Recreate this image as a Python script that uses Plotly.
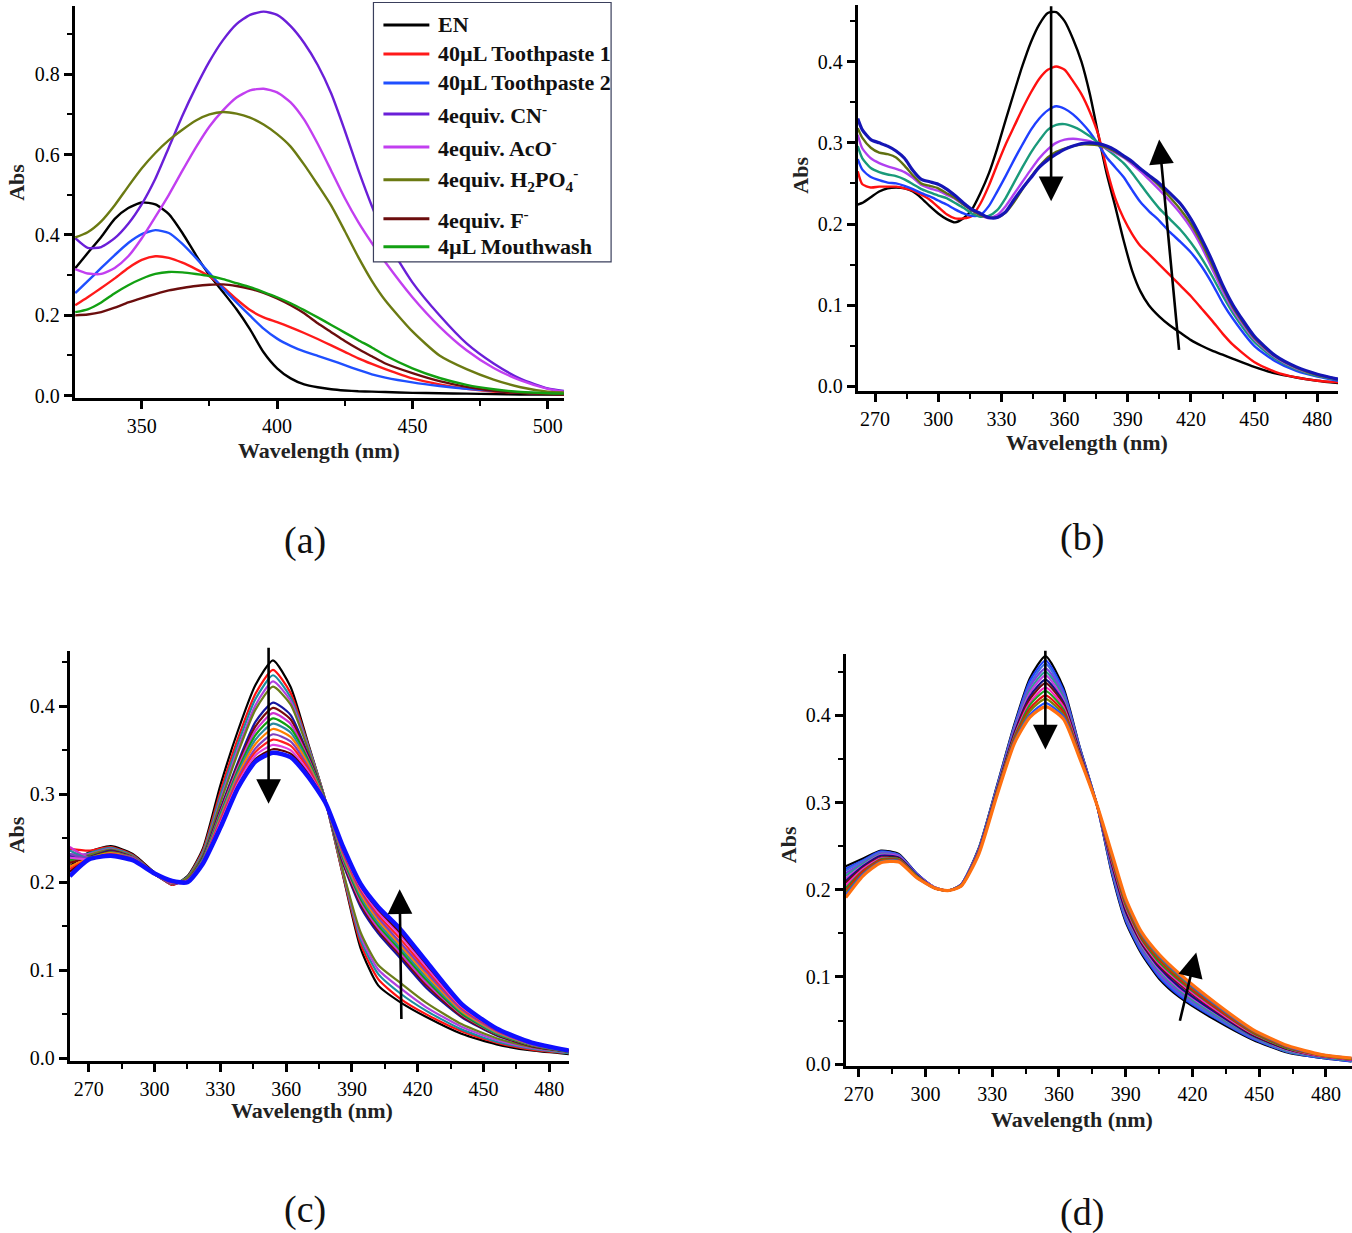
import plotly.graph_objects as go

W, H = 1352, 1233          # reference image size (all pixel positions below are in this frame)
FIG_H = 1241               # page height that the capture maps onto the 1233-pixel picture
SERIF = "Liberation Serif"

# ---------------- panel (a) data ----------------
A_WL = [325.4, 330, 335, 340, 345, 350, 355, 360, 365, 370, 375, 380, 385, 390, 395, 400,
        405, 410, 415, 420, 425, 430, 435, 440, 450, 460, 470, 480, 490, 500, 506]
A_EN = [0.317, 0.355, 0.395, 0.44, 0.467, 0.481, 0.476, 0.452, 0.405, 0.35, 0.3, 0.258, 0.215, 0.165, 0.108, 0.068,
        0.043, 0.028, 0.021, 0.016, 0.013, 0.011, 0.01, 0.009, 0.007, 0.006, 0.005, 0.004, 0.003, 0.003, 0.003]
A_TP1 = [0.225, 0.245, 0.268, 0.292, 0.318, 0.338, 0.347, 0.343, 0.331, 0.315, 0.297, 0.27, 0.24, 0.213, 0.195, 0.183,
         0.17, 0.156, 0.141, 0.125, 0.109, 0.093, 0.079, 0.066, 0.043, 0.028, 0.017, 0.01, 0.007, 0.005, 0.004]
A_TP2 = [0.255, 0.285, 0.318, 0.35, 0.38, 0.402, 0.412, 0.405, 0.378, 0.343, 0.305, 0.267, 0.232, 0.199, 0.167, 0.142,
         0.124, 0.11, 0.099, 0.088, 0.076, 0.064, 0.053, 0.045, 0.033, 0.024, 0.017, 0.012, 0.008, 0.005, 0.005]
A_CN = [0.392, 0.368, 0.37, 0.392, 0.428, 0.477, 0.54, 0.618, 0.697, 0.768, 0.832, 0.885, 0.925, 0.948, 0.956, 0.948,
        0.92, 0.878, 0.823, 0.752, 0.66, 0.562, 0.472, 0.392, 0.282, 0.2, 0.13, 0.08, 0.042, 0.018, 0.012]
A_ACO = [0.315, 0.304, 0.303, 0.318, 0.347, 0.392, 0.445, 0.5, 0.56, 0.618, 0.67, 0.71, 0.742, 0.76, 0.764, 0.755,
         0.73, 0.687, 0.627, 0.56, 0.492, 0.432, 0.38, 0.332, 0.245, 0.172, 0.113, 0.069, 0.038, 0.017, 0.01]
A_H2PO4 = [0.394, 0.407, 0.434, 0.474, 0.521, 0.566, 0.604, 0.636, 0.662, 0.685, 0.7, 0.706, 0.702, 0.692, 0.675, 0.651,
           0.62, 0.575, 0.525, 0.473, 0.41, 0.345, 0.286, 0.237, 0.16, 0.1, 0.066, 0.04, 0.021, 0.01, 0.008]
A_F = [0.2, 0.202, 0.208, 0.219, 0.232, 0.243, 0.253, 0.262, 0.268, 0.273, 0.276, 0.277, 0.273, 0.266, 0.256, 0.242,
       0.225, 0.205, 0.18, 0.158, 0.136, 0.116, 0.098, 0.08, 0.056, 0.036, 0.022, 0.012, 0.007, 0.004, 0.003]
A_MW = [0.208, 0.215, 0.232, 0.255, 0.275, 0.291, 0.303, 0.308, 0.307, 0.303, 0.298, 0.29, 0.28, 0.27, 0.258, 0.245,
        0.23, 0.213, 0.195, 0.176, 0.157, 0.138, 0.12, 0.1, 0.068, 0.044, 0.027, 0.016, 0.009, 0.006, 0.005]
A_NAMES = ["EN", "40µL Toothpaste 1", "40µL Toothpaste 2", "4equiv. CN<sup>-</sup>",
           "4equiv. AcO<sup>-</sup>", "4equiv. H<sub>2</sub>PO<sub>4</sub><sup>-</sup>",
           "4equiv. F<sup>-</sup>", "4µL Mouthwash"]

# ---------------- panel (b) data ----------------
B_WL = [261.8, 264, 268, 272, 276, 280, 284, 288, 292, 296, 300, 304, 308, 312, 316, 320, 324, 328, 332, 336,
        340, 344, 348, 352, 356, 360, 364, 368, 372, 376, 380, 384, 388, 392, 396, 400,
        405, 410, 415, 420, 425, 430, 435, 440, 450, 460, 470, 480, 489.8]
B_0 = [0.224, 0.226, 0.233, 0.24, 0.244, 0.245, 0.244, 0.24, 0.232, 0.222, 0.213, 0.206, 0.202, 0.207, 0.218, 0.238,
       0.262, 0.293, 0.328, 0.362, 0.395, 0.424, 0.446, 0.46, 0.461, 0.45, 0.428, 0.4, 0.36, 0.31, 0.262, 0.222,
       0.18, 0.143, 0.117, 0.1, 0.086, 0.075, 0.066, 0.057, 0.05, 0.044, 0.039, 0.034, 0.024, 0.016, 0.011, 0.007, 0.004]
B_1 = [0.265, 0.249, 0.245, 0.246, 0.246, 0.246, 0.244, 0.241, 0.236, 0.23, 0.221, 0.212, 0.207, 0.207, 0.21, 0.225,
       0.247, 0.273, 0.298, 0.32, 0.342, 0.362, 0.379, 0.39, 0.394, 0.39, 0.376, 0.36, 0.338, 0.31, 0.268, 0.232,
       0.207, 0.188, 0.173, 0.163, 0.15, 0.137, 0.124, 0.111, 0.096, 0.081, 0.065, 0.051, 0.03, 0.018, 0.011, 0.007, 0.005]
B_2 = [0.28, 0.267, 0.258, 0.254, 0.251, 0.25, 0.247, 0.243, 0.238, 0.234, 0.229, 0.224, 0.218, 0.213, 0.21, 0.211,
       0.222, 0.24, 0.259, 0.279, 0.298, 0.316, 0.33, 0.34, 0.345, 0.342, 0.335, 0.325, 0.313, 0.298, 0.282, 0.27,
       0.258, 0.242, 0.227, 0.216, 0.204, 0.19, 0.178, 0.165, 0.148, 0.127, 0.103, 0.083, 0.05, 0.031, 0.019, 0.012, 0.007]
B_3 = [0.296, 0.281, 0.269, 0.264, 0.261, 0.259, 0.255, 0.249, 0.243, 0.239, 0.235, 0.232, 0.226, 0.22, 0.213, 0.209,
       0.21, 0.217, 0.232, 0.251, 0.27, 0.288, 0.303, 0.316, 0.322, 0.323, 0.32, 0.315, 0.308, 0.3, 0.292, 0.284,
       0.275, 0.263, 0.249, 0.235, 0.219, 0.206, 0.193, 0.177, 0.158, 0.136, 0.112, 0.09, 0.055, 0.034, 0.021, 0.013, 0.008]
B_4 = [0.31, 0.293, 0.281, 0.275, 0.271, 0.268, 0.264, 0.257, 0.248, 0.244, 0.241, 0.236, 0.231, 0.224, 0.217, 0.211,
       0.207, 0.211, 0.222, 0.237, 0.252, 0.267, 0.281, 0.292, 0.3, 0.304, 0.305, 0.304, 0.302, 0.298, 0.293, 0.288,
       0.282, 0.274, 0.265, 0.255, 0.242, 0.228, 0.213, 0.195, 0.172, 0.145, 0.118, 0.094, 0.058, 0.036, 0.022, 0.014, 0.009]
B_5 = [0.318, 0.306, 0.294, 0.288, 0.286, 0.282, 0.272, 0.26, 0.25, 0.247, 0.244, 0.238, 0.232, 0.224, 0.217, 0.211,
       0.208, 0.208, 0.214, 0.227, 0.243, 0.258, 0.271, 0.282, 0.289, 0.293, 0.296, 0.298, 0.298, 0.297, 0.294, 0.289,
       0.283, 0.276, 0.268, 0.259, 0.247, 0.233, 0.218, 0.2, 0.177, 0.15, 0.122, 0.097, 0.06, 0.037, 0.023, 0.014, 0.009]
B_6 = [0.33, 0.316, 0.304, 0.3, 0.296, 0.29, 0.281, 0.266, 0.255, 0.252, 0.249, 0.243, 0.235, 0.226, 0.218, 0.213,
       0.208, 0.208, 0.215, 0.23, 0.244, 0.257, 0.27, 0.279, 0.286, 0.292, 0.296, 0.299, 0.3, 0.299, 0.296, 0.291,
       0.284, 0.277, 0.268, 0.26, 0.25, 0.238, 0.225, 0.206, 0.182, 0.155, 0.125, 0.1, 0.062, 0.038, 0.024, 0.015, 0.009]

# ---------------- panel (c) data ----------------
C_WL = [261.3, 270, 280, 290, 300, 308, 315, 322, 330, 338, 346, 354, 362, 370, 378, 386, 394, 402, 412, 424,
        440, 456, 472, 489]
C_SPECTRA = [
    [0.218, 0.234, 0.241, 0.232, 0.211, 0.197, 0.207, 0.238, 0.31, 0.372, 0.424, 0.452, 0.422, 0.358, 0.292, 0.207, 0.125, 0.083, 0.064, 0.047, 0.028, 0.016, 0.009, 0.005],
    [0.238, 0.236, 0.24, 0.231, 0.21, 0.197, 0.206, 0.236, 0.303, 0.363, 0.414, 0.441, 0.415, 0.356, 0.292, 0.208, 0.13, 0.09, 0.068, 0.05, 0.031, 0.018, 0.01, 0.006],
    [0.226, 0.233, 0.239, 0.23, 0.21, 0.198, 0.206, 0.234, 0.298, 0.357, 0.408, 0.435, 0.41, 0.355, 0.292, 0.21, 0.135, 0.096, 0.074, 0.054, 0.033, 0.019, 0.011, 0.006],
    [0.232, 0.232, 0.238, 0.229, 0.209, 0.198, 0.205, 0.232, 0.293, 0.351, 0.401, 0.428, 0.406, 0.353, 0.292, 0.211, 0.139, 0.101, 0.08, 0.058, 0.036, 0.021, 0.012, 0.007],
    [0.224, 0.231, 0.237, 0.229, 0.209, 0.198, 0.205, 0.231, 0.29, 0.347, 0.396, 0.422, 0.402, 0.351, 0.292, 0.212, 0.143, 0.106, 0.086, 0.063, 0.039, 0.023, 0.013, 0.007],
    [0.23, 0.229, 0.236, 0.228, 0.209, 0.199, 0.202, 0.228, 0.283, 0.336, 0.382, 0.404, 0.39, 0.345, 0.291, 0.221, 0.172, 0.142, 0.114, 0.08, 0.047, 0.026, 0.014, 0.008],
    [0.222, 0.228, 0.235, 0.228, 0.209, 0.199, 0.202, 0.227, 0.281, 0.333, 0.377, 0.398, 0.385, 0.343, 0.291, 0.223, 0.175, 0.145, 0.117, 0.083, 0.048, 0.027, 0.014, 0.008],
    [0.24, 0.228, 0.234, 0.228, 0.209, 0.199, 0.202, 0.226, 0.279, 0.33, 0.372, 0.392, 0.38, 0.341, 0.291, 0.225, 0.178, 0.148, 0.12, 0.086, 0.05, 0.028, 0.015, 0.008],
    [0.226, 0.228, 0.234, 0.227, 0.209, 0.2, 0.201, 0.226, 0.277, 0.327, 0.367, 0.386, 0.375, 0.339, 0.291, 0.227, 0.181, 0.151, 0.123, 0.089, 0.051, 0.028, 0.015, 0.008],
    [0.236, 0.227, 0.233, 0.227, 0.209, 0.2, 0.201, 0.225, 0.275, 0.324, 0.362, 0.38, 0.37, 0.336, 0.29, 0.229, 0.184, 0.154, 0.126, 0.092, 0.053, 0.029, 0.016, 0.008],
    [0.218, 0.227, 0.233, 0.227, 0.209, 0.2, 0.201, 0.224, 0.273, 0.321, 0.357, 0.374, 0.365, 0.334, 0.29, 0.231, 0.187, 0.157, 0.129, 0.095, 0.054, 0.03, 0.016, 0.009],
    [0.232, 0.227, 0.232, 0.227, 0.21, 0.2, 0.201, 0.224, 0.271, 0.318, 0.352, 0.368, 0.36, 0.331, 0.29, 0.233, 0.19, 0.16, 0.132, 0.098, 0.056, 0.031, 0.016, 0.009],
    [0.215, 0.226, 0.232, 0.226, 0.21, 0.2, 0.2, 0.223, 0.269, 0.315, 0.348, 0.362, 0.355, 0.329, 0.29, 0.235, 0.192, 0.163, 0.136, 0.101, 0.058, 0.032, 0.017, 0.009],
    [0.228, 0.226, 0.231, 0.226, 0.21, 0.201, 0.2, 0.222, 0.267, 0.312, 0.344, 0.356, 0.35, 0.326, 0.29, 0.237, 0.194, 0.166, 0.14, 0.104, 0.059, 0.033, 0.017, 0.009],
    [0.212, 0.226, 0.231, 0.226, 0.21, 0.201, 0.2, 0.222, 0.264, 0.309, 0.34, 0.351, 0.346, 0.323, 0.29, 0.239, 0.196, 0.169, 0.143, 0.107, 0.061, 0.034, 0.018, 0.009],
    [0.207, 0.226, 0.23, 0.225, 0.21, 0.2015, 0.2, 0.221, 0.262, 0.307, 0.337, 0.347, 0.342, 0.32, 0.29, 0.24, 0.198, 0.172, 0.147, 0.11, 0.062, 0.034, 0.018, 0.009],
]

# ---------------- panel (d) data ----------------
D_WL = [264.2, 272, 280, 288, 296, 304, 310, 316, 324, 332, 340, 347, 354, 362, 369, 377, 384, 390, 397, 405,
        414, 430, 447, 463, 478, 491.5]
D_SPECTRA = [
    [0.227, 0.236, 0.245, 0.241, 0.219, 0.203, 0.199, 0.206, 0.248, 0.318, 0.39, 0.443, 0.468, 0.432, 0.367, 0.298, 0.216, 0.163, 0.127, 0.098, 0.077, 0.051, 0.028, 0.013, 0.007, 0.003],
    [0.224, 0.234, 0.244, 0.24, 0.219, 0.203, 0.199, 0.206, 0.247, 0.317, 0.388, 0.44, 0.463, 0.429, 0.366, 0.298, 0.218, 0.165, 0.129, 0.1, 0.079, 0.053, 0.029, 0.014, 0.007, 0.003],
    [0.222, 0.233, 0.243, 0.24, 0.218, 0.203, 0.199, 0.206, 0.247, 0.316, 0.387, 0.436, 0.459, 0.426, 0.365, 0.298, 0.22, 0.167, 0.131, 0.102, 0.081, 0.054, 0.03, 0.014, 0.008, 0.004],
    [0.219, 0.231, 0.242, 0.239, 0.218, 0.203, 0.199, 0.206, 0.246, 0.315, 0.385, 0.433, 0.454, 0.424, 0.364, 0.298, 0.222, 0.169, 0.133, 0.104, 0.083, 0.056, 0.031, 0.015, 0.008, 0.004],
    [0.216, 0.23, 0.241, 0.238, 0.217, 0.203, 0.199, 0.205, 0.246, 0.315, 0.383, 0.429, 0.45, 0.421, 0.363, 0.298, 0.223, 0.171, 0.135, 0.107, 0.085, 0.057, 0.032, 0.015, 0.008, 0.004],
    [0.213, 0.228, 0.24, 0.238, 0.217, 0.203, 0.199, 0.205, 0.245, 0.314, 0.382, 0.426, 0.446, 0.418, 0.362, 0.298, 0.225, 0.173, 0.137, 0.109, 0.087, 0.059, 0.033, 0.016, 0.009, 0.005],
    [0.21, 0.227, 0.239, 0.237, 0.217, 0.202, 0.199, 0.205, 0.245, 0.313, 0.38, 0.422, 0.441, 0.415, 0.361, 0.298, 0.227, 0.175, 0.139, 0.111, 0.089, 0.06, 0.033, 0.017, 0.009, 0.005],
    [0.208, 0.225, 0.237, 0.236, 0.216, 0.202, 0.199, 0.205, 0.244, 0.312, 0.378, 0.419, 0.437, 0.413, 0.359, 0.298, 0.229, 0.178, 0.14, 0.113, 0.092, 0.062, 0.034, 0.017, 0.009, 0.005],
    [0.205, 0.224, 0.236, 0.235, 0.216, 0.202, 0.199, 0.205, 0.244, 0.311, 0.376, 0.415, 0.432, 0.41, 0.358, 0.298, 0.231, 0.18, 0.142, 0.115, 0.094, 0.063, 0.035, 0.018, 0.009, 0.005],
    [0.202, 0.222, 0.235, 0.235, 0.216, 0.202, 0.199, 0.205, 0.243, 0.311, 0.375, 0.412, 0.428, 0.407, 0.357, 0.298, 0.233, 0.182, 0.144, 0.117, 0.096, 0.065, 0.036, 0.018, 0.01, 0.006],
    [0.199, 0.221, 0.234, 0.234, 0.215, 0.202, 0.199, 0.204, 0.243, 0.31, 0.373, 0.408, 0.423, 0.404, 0.356, 0.298, 0.234, 0.184, 0.146, 0.12, 0.098, 0.066, 0.037, 0.019, 0.01, 0.006],
    [0.197, 0.219, 0.233, 0.233, 0.215, 0.202, 0.199, 0.204, 0.242, 0.309, 0.371, 0.405, 0.419, 0.401, 0.355, 0.298, 0.236, 0.186, 0.148, 0.122, 0.1, 0.068, 0.038, 0.02, 0.01, 0.006],
    [0.194, 0.218, 0.232, 0.233, 0.214, 0.202, 0.199, 0.204, 0.242, 0.308, 0.37, 0.401, 0.414, 0.399, 0.354, 0.298, 0.238, 0.188, 0.15, 0.124, 0.102, 0.069, 0.039, 0.02, 0.011, 0.007],
    [0.191, 0.216, 0.231, 0.232, 0.214, 0.202, 0.199, 0.204, 0.241, 0.307, 0.368, 0.398, 0.41, 0.396, 0.353, 0.298, 0.24, 0.19, 0.152, 0.126, 0.104, 0.071, 0.04, 0.021, 0.011, 0.007],
]

# arrows: (axis suffix, tail x, tail y, tip x, tip y) in data units
ARROWS = [
    ("2", 353.6, 0.47, 353.6, 0.228),
    ("2", 414.4, 0.043, 404.9, 0.304),
    ("3", 352.0, 0.468, 352.0, 0.289),
    ("3", 412.6, 0.043, 411.8, 0.192),
    ("4", 353.9, 0.476, 353.9, 0.361),
    ("4", 414.2, 0.048, 421.7, 0.128),
]

# ---------------- styles ----------------
A_COLORS = ["#000000", "#ff1a1a", "#1f4fff", "#6a1fd8", "#c23ff0", "#6b7a12", "#6b0d0d", "#12a012"]
B_COLORS = ["#000000", "#ff1010", "#1f3fff", "#1a9a7a", "#b040f0", "#5f6f10", "#1515b5"]
C_COLORS = ["#000000", "#ff1010", "#1a8f9f", "#b040e0", "#6b7d1a", "#1515a0", "#7a0a0a", "#d030d0",
            "#10a010", "#2a8aa0", "#ff7f00", "#7f3fbf", "#ff2020", "#e040e0", "#600000", "#1010ff"]
D_COLORS = ["#000000", "#1f3fff", "#3d6fe0", "#7a3fe0", "#2a9d8f", "#c03fe0", "#101080", "#6b1010",
            "#ff20c0", "#20a020", "#e01010", "#808000", "#2050ff", "#ff7010"]


def px_x(p):
    return p / W


def px_y(p):
    return 1 - p / H


fig = go.Figure()

a_series = [A_EN, A_TP1, A_TP2, A_CN, A_ACO, A_H2PO4, A_F, A_MW]
for vals, col, name in zip(a_series, A_COLORS, A_NAMES):
    fig.add_trace(go.Scatter(x=A_WL, y=vals, mode="lines", name=name,
                             line=dict(color=col, width=2.4, shape="spline", smoothing=0.6),
                             xaxis="x", yaxis="y", showlegend=False))

b_series = [B_0, B_1, B_2, B_3, B_4, B_5, B_6]
for i, (vals, col) in enumerate(zip(b_series, B_COLORS)):
    fig.add_trace(go.Scatter(x=B_WL, y=vals, mode="lines",
                             line=dict(color=col, width=3.2 if i == 6 else 2.4, shape="spline", smoothing=0.6),
                             xaxis="x2", yaxis="y2", showlegend=False))

for i, (vals, col) in enumerate(zip(C_SPECTRA, C_COLORS)):
    fig.add_trace(go.Scatter(x=C_WL, y=vals, mode="lines",
                             line=dict(color=col, width=4.5 if i == len(C_SPECTRA) - 1 else 2.2,
                                       shape="spline", smoothing=0.6),
                             xaxis="x3", yaxis="y3", showlegend=False))

for i, (vals, col) in enumerate(zip(D_SPECTRA, D_COLORS)):
    fig.add_trace(go.Scatter(x=D_WL, y=vals, mode="lines",
                             line=dict(color=col, width=3.2 if i == len(D_SPECTRA) - 1 else 2.2,
                                       shape="spline", smoothing=0.6),
                             xaxis="x4", yaxis="y4", showlegend=False))

TICKFONT = dict(family=SERIF, size=20, color="black")


def xax(dom, rng, tick0, dtick, mdtick, anchor):
    return dict(domain=[px_x(dom[0]), min(1.0, px_x(dom[1]))], range=rng, anchor=anchor,
                tickmode="linear", tick0=tick0, dtick=dtick,
                showline=True, linewidth=3, linecolor="black", mirror=False,
                ticks="outside", ticklen=8, tickwidth=2.5, tickcolor="black",
                showgrid=False, zeroline=False, tickfont=TICKFONT,
                minor=dict(dtick=mdtick, ticks="outside", ticklen=5, tickwidth=2,
                           tickcolor="black", showgrid=False))


def yax(dom, rng, dtick, mdtick, anchor):
    return dict(domain=[px_y(dom[0]), min(1.0, px_y(dom[1]))], range=rng, anchor=anchor,
                tickmode="linear", tick0=0, dtick=dtick, tickformat=".1f",
                showline=True, linewidth=3, linecolor="black", mirror=False,
                ticks="outside", ticklen=8, tickwidth=2.5, tickcolor="black",
                showgrid=False, zeroline=False, tickfont=TICKFONT,
                minor=dict(dtick=mdtick, ticks="outside", ticklen=5, tickwidth=2,
                           tickcolor="black", showgrid=False))


fig.update_layout(
    width=W, height=FIG_H,
    margin=dict(l=0, r=0, t=0, b=0),
    paper_bgcolor="white", plot_bgcolor="white",
    showlegend=False,
    xaxis=xax((72.8, 562.8), [325.2, 506], 350, 50, 25, "y"),
    yaxis=yax((398.4, 6), [-0.006, 0.97], 0.2, 0.1, "x"),
    xaxis2=xax((857, 1338), [261.8, 489.8], 270, 30, 15, "y2"),
    yaxis2=yax((391, 5), [-0.0053, 0.4698], 0.1, 0.05, "x2"),
    xaxis3=xax((67.9, 567.7), [261.3, 489], 270, 30, 15, "y3"),
    yaxis3=yax((1061.5, 652), [-0.0025, 0.462], 0.1, 0.05, "x3"),
    xaxis4=xax((845, 1352), [264.2, 491.7], 270, 30, 15, "y4"),
    yaxis4=yax((1067, 655), [-0.0023, 0.4699], 0.1, 0.05, "x4"),
)

ann = []
# axis titles
for (cx, cy) in [(317, 451), (1087, 443), (310, 1111), (1072, 1120)]:
    ann.append(dict(text="<b>Wavelength (nm)</b>", x=px_x(cx), y=px_y(cy), xref="paper", yref="paper",
                    showarrow=False, xanchor="center", yanchor="middle",
                    font=dict(family=SERIF, size=22, color="#222")))
for (cx, cy) in [(15, 182), (800, 175), (14, 835), (787, 845)]:
    ann.append(dict(text="<b>Abs</b>", x=px_x(cx), y=px_y(cy), xref="paper", yref="paper",
                    showarrow=False, xanchor="center", yanchor="middle", textangle=-90,
                    font=dict(family=SERIF, size=22, color="#222")))
# panel labels
for lab, (cx, cy) in zip(["(a)", "(b)", "(c)", "(d)"], [(303, 541), (1082, 538), (303, 1210), (1082, 1213)]):
    ann.append(dict(text=lab, x=px_x(cx), y=px_y(cy), xref="paper", yref="paper",
                    showarrow=False, xanchor="center", yanchor="middle",
                    font=dict(family=SERIF, size=38, color="#111")))
# arrows
for ax_id, tx, ty, hx, hy in ARROWS:
    ann.append(dict(x=hx, y=hy, ax=tx, ay=ty, xref="x" + ax_id, yref="y" + ax_id,
                    axref="x" + ax_id, ayref="y" + ax_id, text="", showarrow=True,
                    arrowhead=2, arrowsize=1.9, arrowwidth=2.6, arrowcolor="black"))

# legend of panel (a)
shapes = [dict(type="rect", xref="paper", yref="paper", x0=px_x(372), x1=px_x(610),
               y0=px_y(262), y1=px_y(2.5), line=dict(color="#3a3f5c", width=1.2),
               fillcolor="white", layer="above")]
LEG_Y = [25, 54, 83, 114, 147, 180, 219, 247]
for name, col, ly in zip(A_NAMES, A_COLORS, LEG_Y):
    shapes.append(dict(type="line", xref="paper", yref="paper", x0=px_x(382), x1=px_x(428),
                       y0=px_y(ly), y1=px_y(ly), line=dict(color=col, width=3), layer="above"))
    ann.append(dict(text="<b>" + name + "</b>", x=px_x(435), y=px_y(ly), xref="paper", yref="paper",
                    showarrow=False, xanchor="left", yanchor="middle",
                    font=dict(family=SERIF, size=22, color="#111")))

fig.update_layout(annotations=ann, shapes=shapes)

PAGE_FIX = (
    "var s='margin:0;padding:0;overflow:hidden;line-height:0;';"
    "document.documentElement.setAttribute('style', s);"
    "document.body.setAttribute('style', s);"
)
fig.write_html("out.html", config={"displayModeBar": False}, post_script=PAGE_FIX)
